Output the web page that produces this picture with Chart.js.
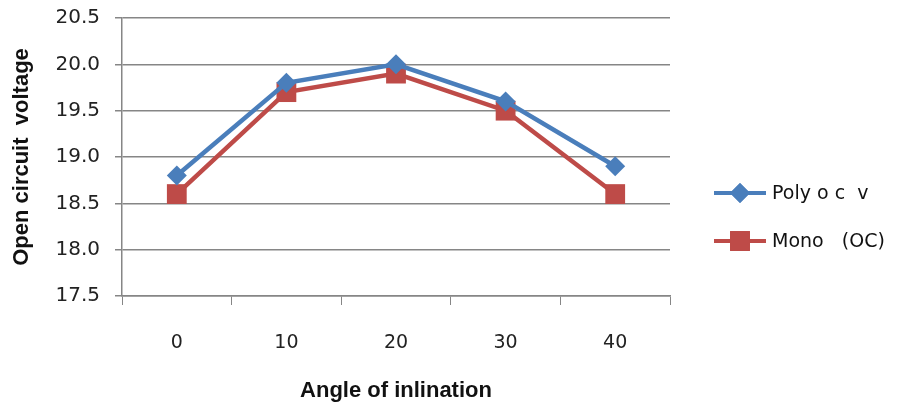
<!DOCTYPE html>
<html>
<head>
<meta charset="utf-8">
<script src="https://cdn.jsdelivr.net/npm/chart.js@4"></script>
<style>
    body { margin: 0; background: #fff; }
    #wrap { width: 904px; height: 407px; }
</style>
</head>
<body>
<div id="wrap"><canvas id="ocvChart" width="904" height="407"></canvas></div>
<script>
var angles = ['0', '10', '20', '30', '40'];
var polyOcv = [18.8, 19.8, 20.0, 19.6, 18.9];
var monoOcv = [18.6, 19.7, 19.9, 19.5, 18.6];
var yTicks = [17.5, 18.0, 18.5, 19.0, 19.5, 20.0, 20.5];
var seriesNames = ['Poly o c  v', 'Mono   (OC)'];

var blue = '#4a7ebb';
var red = '#be4b48';
var gridColor = '#868686';

// legend drawn by hand so the marker sits on the line like the original
var legendPlugin = {
    id: 'sideLegend',
    afterDraw: function(chart) {
        var ctx = chart.ctx;
        var items = [
            { name: seriesNames[0], color: blue, style: 'rectRot', r: 10, y: 193 },
            { name: seriesNames[1], color: red, style: 'rect', r: 14, y: 241 }
        ];
        ctx.save();
        items.forEach(function(it) {
            ctx.strokeStyle = it.color;
            ctx.lineWidth = 4;
            ctx.beginPath();
            ctx.moveTo(714, it.y);
            ctx.lineTo(766, it.y);
            ctx.stroke();
            ctx.fillStyle = it.color;
            Chart.helpers.drawPoint(ctx, { pointStyle: it.style, radius: it.r, borderWidth: 0 }, 740, it.y);
            ctx.fill();
            ctx.fillStyle = '#111';
            ctx.font = '19px "DejaVu Sans"';
            ctx.textBaseline = 'middle';
            ctx.fillText(it.name, 772, it.y + 1);
        });
        ctx.restore();
    }
};

var ctx = document.getElementById('ocvChart').getContext('2d');
new Chart(ctx, {
    type: 'line',
    data: {
        labels: angles,
        datasets: [{
            label: seriesNames[0],
            data: polyOcv,
            borderColor: blue,
            backgroundColor: blue,
            borderWidth: 4.5,
            pointStyle: 'rectRot',
            pointRadius: 10,
            pointBorderWidth: 0,
            tension: 0
        }, {
            label: seriesNames[1],
            data: monoOcv,
            borderColor: red,
            backgroundColor: red,
            borderWidth: 4.5,
            pointStyle: 'rect',
            pointRadius: 14,
            pointBorderWidth: 0,
            tension: 0
        }]
    },
    options: {
        responsive: false,
        animation: false,
        layout: { padding: { top: 18, right: 234, left: 0, bottom: 0 } },
        plugins: {
            legend: { display: false },
            tooltip: { enabled: false }
        },
        scales: {
            x: {
                offset: true,
                grid: {
                    offset: true,
                    drawOnChartArea: false,
                    drawTicks: true,
                    tickLength: 9,
                    color: gridColor
                },
                border: { color: gridColor, width: 1.5 },
                ticks: {
                    color: '#222',
                    font: { family: 'DejaVu Sans', size: 19 },
                    padding: 27
                },
                title: {
                    display: true,
                    text: 'Angle of inlination',
                    color: '#111',
                    font: { family: 'Liberation Sans', size: 22, weight: 'bold' },
                    padding: { top: 0, bottom: 3 }
                },
                afterFit: function(scale) { scale.height = 111; }
            },
            y: {
                min: 17.5,
                max: 20.5,
                afterBuildTicks: function(scale) {
                    scale.ticks = yTicks.map(function(v) { return { value: v }; });
                },
                grid: {
                    color: gridColor,
                    lineWidth: 1.5,
                    tickLength: 7
                },
                border: { color: gridColor, width: 1.5 },
                ticks: {
                    color: '#222',
                    // small lineHeight keeps the label from pushing the plot down
                    font: { family: 'DejaVu Sans', size: 20, lineHeight: 0.3 },
                    padding: 15,
                    callback: function(v) { return Number(v).toFixed(1); }
                },
                title: {
                    display: true,
                    text: 'Open circuit  voltage',
                    color: '#111',
                    font: { family: 'Liberation Sans', size: 22, weight: 'bold' },
                    padding: { top: 9, bottom: 0 }
                },
                afterFit: function(scale) { scale.width = 122; }
            }
        }
    },
    plugins: [legendPlugin]
});
</script>
</body>
</html>
